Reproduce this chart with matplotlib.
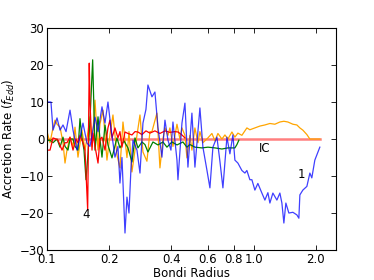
import numpy as np
import matplotlib
matplotlib.use('Agg')
import matplotlib.pyplot as plt
from matplotlib.ticker import FixedLocator, FixedFormatter, NullLocator

# run 1 (blue)
x1 = [0.1000, 0.1045, 0.1069, 0.1093, 0.1118, 0.1156, 0.1195, 0.1236, 0.1292, 0.1336,
      0.1397, 0.1444, 0.1493, 0.1561, 0.1614, 0.1651, 0.1707, 0.1765, 0.1845, 0.1908,
      0.1972, 0.2039, 0.2132, 0.2204, 0.2254, 0.2305, 0.2384, 0.2437, 0.2492, 0.2548,
      0.2606, 0.2724, 0.2817, 0.2912, 0.3011, 0.3078, 0.3148, 0.3219, 0.3328, 0.3441,
      0.3598, 0.3721, 0.3847, 0.3978, 0.4068, 0.4254, 0.4301, 0.4497, 0.4649, 0.4807,
      0.5025, 0.5196, 0.5493, 0.5680, 0.5939, 0.6141, 0.6349, 0.6639, 0.6864, 0.7098,
      0.7421, 0.7673, 0.7934, 0.8111, 0.8387, 0.8768, 0.9067, 0.9270, 0.9585, 0.9802,
      1.0134, 1.0478, 1.0956, 1.1330, 1.1715, 1.1979, 1.2385, 1.2950, 1.3389, 1.3692,
      1.3998, 1.4313, 1.4799, 1.5474, 1.6179, 1.6544, 1.6729, 1.7295, 1.8087, 1.8701,
      1.9111, 1.9764, 2.0897]
y1 = [10.0, 10.0, 2.4, 4.0, 5.7, 2.4, 3.8, 2.0, 7.8, 2.4,
      -3.0, 0.5, 4.3, -1.1, -2.0, 1.0, 5.9, 2.0, 8.7, 4.3,
      10.0, 3.0, -4.9, -2.0, -11.9, -5.0, -25.4, -15.7, -20.0, -8.0,
      -0.3, -3.0, -9.2, 4.3, 8.0, 14.6, 13.0, 11.4, 12.7, 3.2,
      -4.9, 5.1, -0.3, -3.0, 4.6, -5.7, -11.0, 4.3, 9.7, -7.6,
      7.0, -7.6, 8.4, -2.2, -8.4, -13.2, -2.2, 0.5, -6.0, -13.2,
      0.5, -4.0, 1.1, -5.7, -6.5, -8.5, -9.2, -8.5, -11.0, -11.0,
      -13.8, -12.0, -14.6, -16.5, -14.5, -17.3, -14.6, -16.5, -14.6, -17.3,
      -22.7, -17.3, -20.0, -19.8, -20.5, -21.4, -15.1, -13.8, -12.8, -9.2,
      -10.5, -5.7, -2.2]

# orange run
x2 = [0.1000, 0.1034, 0.1069, 0.1093, 0.1118, 0.1156, 0.1195, 0.1222, 0.1249, 0.1292,
      0.1336, 0.1366, 0.1412, 0.1476, 0.1527, 0.1579, 0.1614, 0.1651, 0.1707, 0.1765,
      0.1804, 0.1866, 0.1950, 0.2016, 0.2085, 0.2180, 0.2254, 0.2331, 0.2437, 0.2492,
      0.2576, 0.2665, 0.2724, 0.2817, 0.2912, 0.3044, 0.3148, 0.3219, 0.3328, 0.3403,
      0.3519, 0.3639, 0.3721, 0.3847, 0.3933, 0.4068, 0.4254, 0.4397, 0.4497, 0.4649,
      0.4753, 0.4915, 0.5025, 0.5196, 0.5373, 0.5493, 0.5680, 0.6005, 0.6279, 0.6493,
      0.6713, 0.7019, 0.7258, 0.7504, 0.7847, 0.8111, 0.8387, 0.8768, 0.9270, 0.9585,
      1.0134, 1.0715, 1.1330, 1.1979, 1.2663, 1.3389, 1.3998, 1.4636, 1.5474, 1.6179,
      1.6729, 1.7295, 1.8087, 1.8701, 2.0897]
y2 = [2.0, -1.0, 3.0, 5.1, 4.0, 3.2, -1.0, -6.5, -3.0, 0.5,
      -2.0, 3.2, -4.9, 2.4, -3.0, 2.0, 6.0, -2.0, 10.5, -3.0,
      4.0, 7.8, -5.7, 1.1, 6.5, -4.3, -7.8, 4.6, -5.0, 2.0,
      -8.9, -3.0, 1.0, 6.5, -3.5, -6.0, 2.0, 2.0, 5.0, 7.0,
      -7.8, 0.0, 3.0, 1.0, 3.0, -2.0, 4.0, 0.0, 3.0, 1.0,
      -5.1, 1.0, -3.0, 3.0, -1.0, 2.0, -1.0, 0.3, 1.5, -0.5,
      1.5, 0.0, 1.1, 0.0, 1.9, 0.5, 1.6, 1.0, 3.0, 2.5,
      3.0, 3.5, 3.8, 4.2, 4.0, 4.6, 4.8, 4.6, 4.0, 3.8,
      3.0, 2.4, 1.2, 0.0, 0.0]

# green run
x3 = [0.1000, 0.1034, 0.1069, 0.1118, 0.1156, 0.1195, 0.1222, 0.1263, 0.1292, 0.1336,
      0.1366, 0.1412, 0.1444, 0.1476, 0.1510, 0.1544, 0.1579, 0.1614, 0.1663, 0.1707,
      0.1765, 0.1804, 0.1845, 0.1908, 0.1972, 0.2062, 0.2180, 0.2254, 0.2357, 0.2465,
      0.2576, 0.2665, 0.2754, 0.2880, 0.2978, 0.3078, 0.3255, 0.3441, 0.3639, 0.3804,
      0.4022, 0.4254, 0.4546, 0.4753, 0.4915, 0.5196, 0.5618, 0.6005, 0.6493, 0.7019,
      0.7504, 0.8111, 0.8295, 0.8481]
y3 = [-0.5, -0.3, -1.0, 0.0, -2.2, 0.5, -2.0, -3.0, 0.0, 0.0,
      -2.0, -3.0, 5.5, 0.3, -3.0, -11.0, -4.0, 5.0, 21.4, -3.0,
      6.0, 0.0, -4.9, 3.8, -1.6, -5.1, 0.3, -2.4, -0.5, -2.4,
      -6.2, 0.3, -2.4, -0.8, -1.5, -3.5, -0.8, -1.6, -0.8, -2.2,
      -0.8, -1.6, -0.8, -2.2, -1.5, -2.2, -2.4, -2.2, -2.4, -2.7,
      -2.4, -2.4, -1.5, -0.3]

# run 4 (red)
x4 = [0.1000, 0.1034, 0.1069, 0.1105, 0.1130, 0.1182, 0.1222, 0.1249, 0.1292, 0.1336,
      0.1381, 0.1412, 0.1444, 0.1493, 0.1527, 0.1573, 0.1601, 0.1614, 0.1651, 0.1669,
      0.1707, 0.1765, 0.1804, 0.1845, 0.1908, 0.1972, 0.2016, 0.2062, 0.2132, 0.2204,
      0.2254, 0.2305, 0.2384, 0.2465, 0.2576, 0.2665, 0.2754, 0.2880, 0.3011, 0.3148,
      0.3328, 0.3519, 0.3721, 0.3933, 0.4159, 0.4301, 0.4497, 0.4649]
y4 = [-3.0, -3.0, 0.3, 0.0, -0.3, -3.0, -1.0, -1.0, 0.5, -3.0,
      0.0, -1.0, 1.0, -1.0, -3.0, -19.2, 20.5, 10.0, -3.0, 1.6,
      -2.0, -6.5, 0.0, 0.5, -3.0, 3.0, 5.1, 0.3, 3.0, 0.3,
      2.0, -2.2, 1.9, 1.5, 1.1, 2.0, 1.9, 1.2, 2.2, 1.6,
      2.2, 1.5, 2.2, 1.8, 2.0, 1.9, 1.1, 0.3]

# initial condition
x_ic = [0.1, 2.09]
y_ic = [0.0, 0.0]

xticks = [0.1, 0.2, 0.4, 0.6, 0.8, 1.0, 2.0]
xtick_labels = ['0.1', '0.2', '0.4', '0.6', '0.8', '1.0', '2.0']
yticks = [-30, -20, -10, 0, 10, 20, 30]

plt.rcParams['font.size'] = 8.5
plt.rcParams['xtick.direction'] = 'in'
plt.rcParams['ytick.direction'] = 'in'
plt.rcParams['xtick.top'] = True
plt.rcParams['ytick.right'] = True

fig = plt.figure(figsize=(3.74, 2.8), dpi=100)
ax = fig.add_axes([0.1257, 0.107, 0.7725, 0.793])

ax.plot(x_ic, y_ic, color='r', alpha=0.5, lw=1.8)
ax.plot(x2, y2, color='orange', lw=0.9)
ax.plot(x3, y3, color='g', lw=0.9)
ax.plot(x4, y4, color='r', lw=0.9)
ax.plot(x1, y1, color='b', alpha=0.75, lw=0.9)

ax.text(0.154, -20.5, '4', ha='center', va='center')
ax.text(1.71, -9.7, '1', ha='center', va='center')
ax.text(1.13, -2.5, 'IC', ha='center', va='center')

ax.set_xscale('log')
ax.set_xlim(0.1, 2.5)
ax.set_ylim(-30, 30)
ax.xaxis.set_major_locator(FixedLocator(xticks))
ax.xaxis.set_major_formatter(FixedFormatter(xtick_labels))
ax.xaxis.set_minor_locator(NullLocator())
ax.set_yticks(yticks)
ax.tick_params(length=3.5, width=0.6, pad=2)
for s in ax.spines.values():
    s.set_linewidth(0.8)

ax.set_xlabel('Bondi Radius', labelpad=1)
ax.set_ylabel(r'Accretion Rate ($f_{Edd}$)', labelpad=2)

fig.savefig('out.png', dpi=100)
